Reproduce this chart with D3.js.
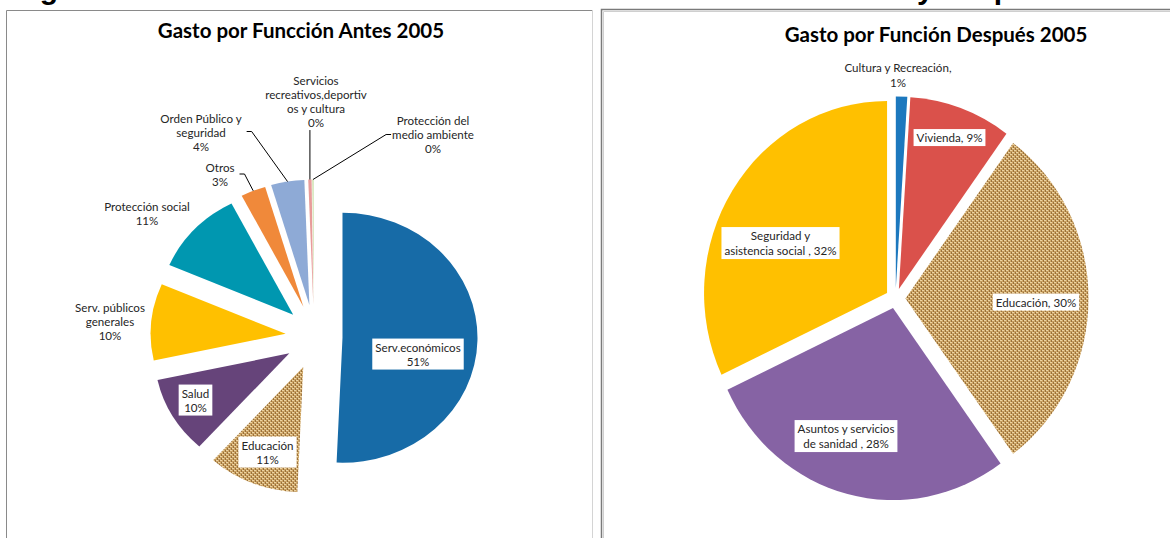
<!DOCTYPE html>
<html><head><meta charset="utf-8">
<script src="https://cdn.jsdelivr.net/npm/d3@7"></script>
<style>body{margin:0;background:#fff} svg{display:block}</style>
</head><body>
<svg id="c" width="1170" height="538"></svg>
<script>
// ---------- data ----------
const headingParts = ["Figura 3. Estructura del Gasto antes", "y después"];
const leftTitle = "Gasto por Funcción Antes 2005";
const leftCategories = ["Serv.económicos","Educación","Salud","Serv. públicos generales","Protección social","Otros","Orden Público y seguridad","Servicios recreativos,deportivos y cultura","Protección del medio ambiente"];
const leftValues = [51, 11, 10, 10, 11, 3, 4, 0.4, 0.2];
const leftLabelLines = [["Serv.económicos","{p}"],["Educación","{p}"],["Salud","{p}"],["Serv. públicos","generales","{p}"],["Protección social","{p}"],["Otros","{p}"],["Orden Público y","seguridad","{p}"],["Servicios","recreativos,deportiv","os y cultura","{p}"],["Protección del","medio ambiente","{p}"]];
const leftColors = ["#176BA7","url(#burlap)","#66447A","#FFC000","#0097B0","#F0893A","#8EAAD6","#E89C9A","#D3E4B7"];

const rightTitle = "Gasto por Función Después 2005";
const rightCategories = ["Cultura y Recreación","Vivienda","Educación","Asuntos y servicios de sanidad","Seguridad y asistencia social"];
const rightValues = [1, 9, 30, 28, 32];
const rightLabelLines = [["Cultura y Recreación,","{p}"],["Vivienda, {p}"],["Educación, {p}"],["Asuntos y servicios","de sanidad , {p}"],["Seguridad y","asistencia social , {p}"]];
const rightColors = ["#1C78BE","#DA514B","url(#burlap)","#8663A4","#FFC000"];

// ---------- layout (styles / positions) ----------
const leftLayout = {cx:314, cy:337, rx:135, ry:125, ex:28.5, ey:32.5, lh:14,
  labels:[{x:418,y:354.5,box:true},{x:267.5,y:452.5,box:true},{x:195.5,y:400.5,box:true},{x:110,y:321.7},{x:147,y:213.5},{x:220,y:175},{x:201,y:132.5},{x:316,y:102},{x:433,y:134.5}],
  leaders:{5:"right",6:"right",7:"bottom",8:"left"}};
const rightLayout = {cx:895.5, cy:298.4, rx:183, ry:192, ex:10, ey:10, lh:15,
  labels:[{x:898,y:75.5},{x:949.5,y:138,box:true},{x:1036,y:302.5,box:true},{x:846,y:436.5,box:true},{x:780.5,y:243.5,box:true}],
  leaders:{}};

const svg = d3.select("#c");
const font = "Lato, 'Open Sans', sans-serif";

// burlap texture
const defs = svg.append("defs");
const pat = defs.append("pattern").attr("id","burlap").attr("width",4).attr("height",4).attr("patternUnits","userSpaceOnUse");
pat.append("rect").attr("width",4).attr("height",4).attr("fill","#9a713c");
pat.append("rect").attr("x",0).attr("y",0).attr("width",2).attr("height",1).attr("fill","#ecd3a2");
pat.append("rect").attr("x",2).attr("y",2).attr("width",2).attr("height",1).attr("fill","#ecd3a2");
pat.append("rect").attr("x",2).attr("y",0).attr("width",1).attr("height",2).attr("fill","#d1a968");
pat.append("rect").attr("x",0).attr("y",2).attr("width",1).attr("height",2).attr("fill","#d1a968");
pat.append("rect").attr("x",0).attr("y",1).attr("width",2).attr("height",1).attr("fill","#c59c5f");
pat.append("rect").attr("x",2).attr("y",3).attr("width",2).attr("height",1).attr("fill","#c59c5f");

// heading (cut off at top, as in the source page)
const head = svg.append("text").attr("y",-1).attr("font-family","'Liberation Sans', Arial, sans-serif")
  .attr("font-weight","bold").attr("font-size",30).attr("fill","#000");
head.append("tspan").attr("x",13).text(headingParts[0]);
head.append("tspan").attr("x",917).text(headingParts[1]);

// panel frames
svg.append("path").attr("d","M6.5,538V10.5H592").attr("fill","none").attr("stroke","#8a8a8a");
svg.append("line").attr("x1",592.5).attr("x2",592.5).attr("y1",10).attr("y2",538).attr("stroke","#d4d4d4");
svg.append("path").attr("d","M601.5,538V9.5H1170").attr("fill","none").attr("stroke","#7a7a7a").attr("stroke-width",1.5);
svg.append("path").attr("d","M603.5,538V11.5H1170").attr("fill","none").attr("stroke","#cfcfcf");

// titles
svg.append("text").attr("x",301).attr("y",38).attr("text-anchor","middle").attr("font-family",font)
  .attr("font-weight","bold").attr("font-size",20.5).attr("fill","#000").text(leftTitle);
svg.append("text").attr("x",936).attr("y",42).attr("text-anchor","middle").attr("font-family",font)
  .attr("font-weight","bold").attr("font-size",20.5).attr("fill","#000").text(rightTitle);

function drawPie(values, colors, labelLines, L){
  const total = d3.sum(values);
  const slices = d3.pie().sort(null).value(d=>d)(values);
  const g = svg.append("g");
  const geo = slices.map(s=>{
    const mid = (s.startAngle+s.endAngle)/2;
    const tx = L.cx + L.ex*Math.sin(mid), ty = L.cy - L.ey*Math.cos(mid);
    const P = a => [tx + L.rx*Math.sin(a), ty - L.ry*Math.cos(a)];
    return {s, mid, tx, ty, P};
  });
  geo.forEach((o,i)=>{
    const a0=o.s.startAngle, a1=o.s.endAngle;
    const p0=o.P(a0), p1=o.P(a1);
    const large = (a1-a0)>Math.PI?1:0;
    g.append("path")
      .attr("d",`M${o.tx},${o.ty}L${p0[0]},${p0[1]}A${L.rx},${L.ry} 0 ${large} 1 ${p1[0]},${p1[1]}Z`)
      .attr("fill",colors[i]);
  });
  // labels
  const lg = svg.append("g");
  geo.forEach((o,i)=>{
    const pct = Math.round(o.s.value/total*100)+"%";
    const lines = labelLines[i].map(t=>t.replace("{p}",pct));
    const pos = L.labels[i];
    const grp = lg.append("g");
    const rect = grp.append("rect").attr("fill","#fff");
    const n = lines.length;
    const t = grp.append("text").attr("text-anchor","middle").attr("font-family",font)
      .attr("font-size",11.6).attr("fill","#262626");
    lines.forEach((ln,k)=>{
      t.append("tspan").attr("x",pos.x).attr("y",pos.y + (k-(n-1)/2)*L.lh).attr("dy","0.35em").text(ln);
    });
    const bb = t.node().getBBox();
    if(pos.box){
      rect.attr("x",bb.x-3).attr("y",bb.y-2).attr("width",bb.width+6).attr("height",bb.height+4);
    } else rect.remove();
    const type = L.leaders[i];
    if(type){
      const pt = o.P(o.mid);
      let pts;
      if(type==="right"){
        const sx = bb.x+bb.width+5, sy = pos.y-1;
        pts = [[sx,sy],[sx+5,sy],pt];
      } else if(type==="left"){
        const sx = bb.x-1, sy = pos.y;
        pts = [[sx,sy],[sx-5,sy],pt];
      } else {
        pts = [[pt[0], bb.y+bb.height+1], pt];
      }
      lg.append("path").attr("d", d3.line()(pts)).attr("fill","none").attr("stroke","#000").attr("stroke-width",1);
    }
  });
}
drawPie(leftValues, leftColors, leftLabelLines, leftLayout);
drawPie(rightValues, rightColors, rightLabelLines, rightLayout);
</script>
</body></html>
